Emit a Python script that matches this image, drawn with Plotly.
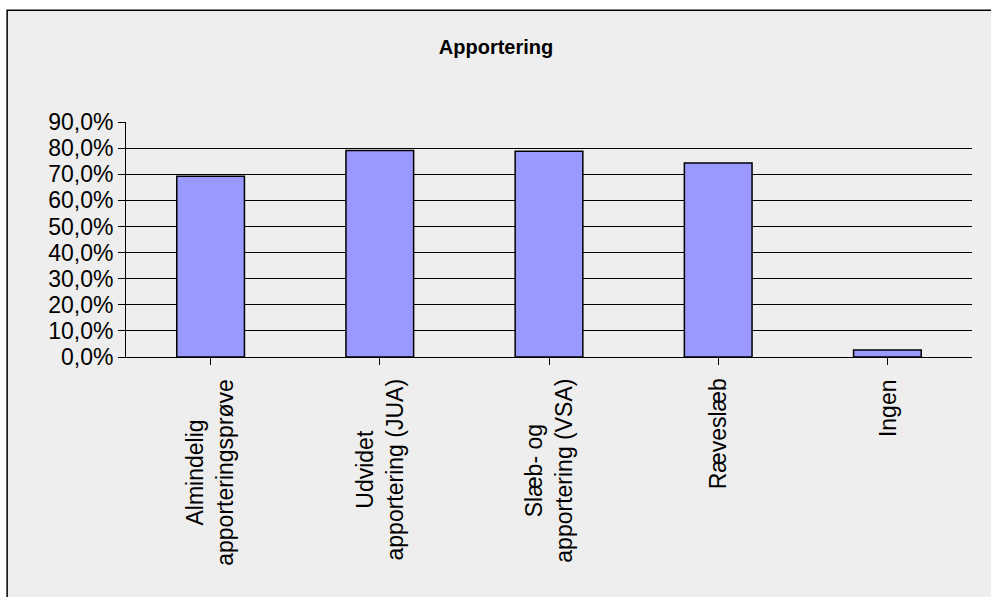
import plotly.graph_objects as go

categories = ["Almindelig<br>apporteringsprøve", "Udvidet<br>apportering (JUA)",
              "Slæb- og<br>apportering (VSA)", "Ræveslæb", "Ingen"]
values = [0.692, 0.791, 0.788, 0.743, 0.027]
title_text = "Apportering"

W, H = 991, 597
L, R, T, B = 125.5, 18.5, 122, 239.7
ph = H - T - B
pw = W - L - R

FONT = "Liberation Sans, Arial, sans-serif"

fig = go.Figure(go.Bar(
    x=list(range(len(categories))), y=values,
    marker=dict(color="#9999FF", line=dict(color="black", width=1.5)),
    hoverinfo="skip",
))

annotations = []
for i, c in enumerate(categories):
    annotations.append(dict(
        x=i, xref="x", y=-(377 - (H - B)) / ph, yref="paper",
        text=c, showarrow=False, textangle=-90, align="center",
        xanchor="center", yanchor="top",
        font=dict(family=FONT, size=23, color="black"),
    ))

fig.update_layout(
    width=W, height=H,
    margin=dict(l=L, r=R, t=T, b=B, pad=0),
    paper_bgcolor="white", plot_bgcolor="rgba(0,0,0,0)",
    separators=", ",
    bargap=0.6,
    showlegend=False,
    title=dict(text=title_text, x=496 / W, xanchor="center", y=1 - 47 / H, yanchor="middle",
               font=dict(family=FONT, size=20, color="black", weight="bold")),
    xaxis=dict(range=[-0.5, len(categories) - 0.5], showline=True, linecolor="black", linewidth=1,
               ticks="outside", tickson="boundaries", ticklen=7, tickcolor="black",
               showticklabels=False, showgrid=False, zeroline=False, fixedrange=True),
    yaxis=dict(range=[0, 0.9], dtick=0.1, tick0=0, tickformat=".1%",
               showline=True, linecolor="black", linewidth=1,
               ticks="outside", ticklen=7, tickcolor="black",
               showgrid=True, gridcolor="black", gridwidth=1, zeroline=False,
               tickfont=dict(family=FONT, size=23, color="black"), fixedrange=True),
    annotations=annotations,
    shapes=[dict(type="rect", xref="paper", yref="paper", layer="below",
                 x0=-(L - 6.5) / pw, x1=1.2,
                 y0=-1.2, y1=(H - B - 10) / ph,
                 fillcolor="#EEEEEE", line=dict(color="black", width=1.5))],
)

fig.write_html("out.html", config={"displayModeBar": False, "staticPlot": True},
               post_script="document.body.style.margin='0';document.body.style.overflow='hidden';")
